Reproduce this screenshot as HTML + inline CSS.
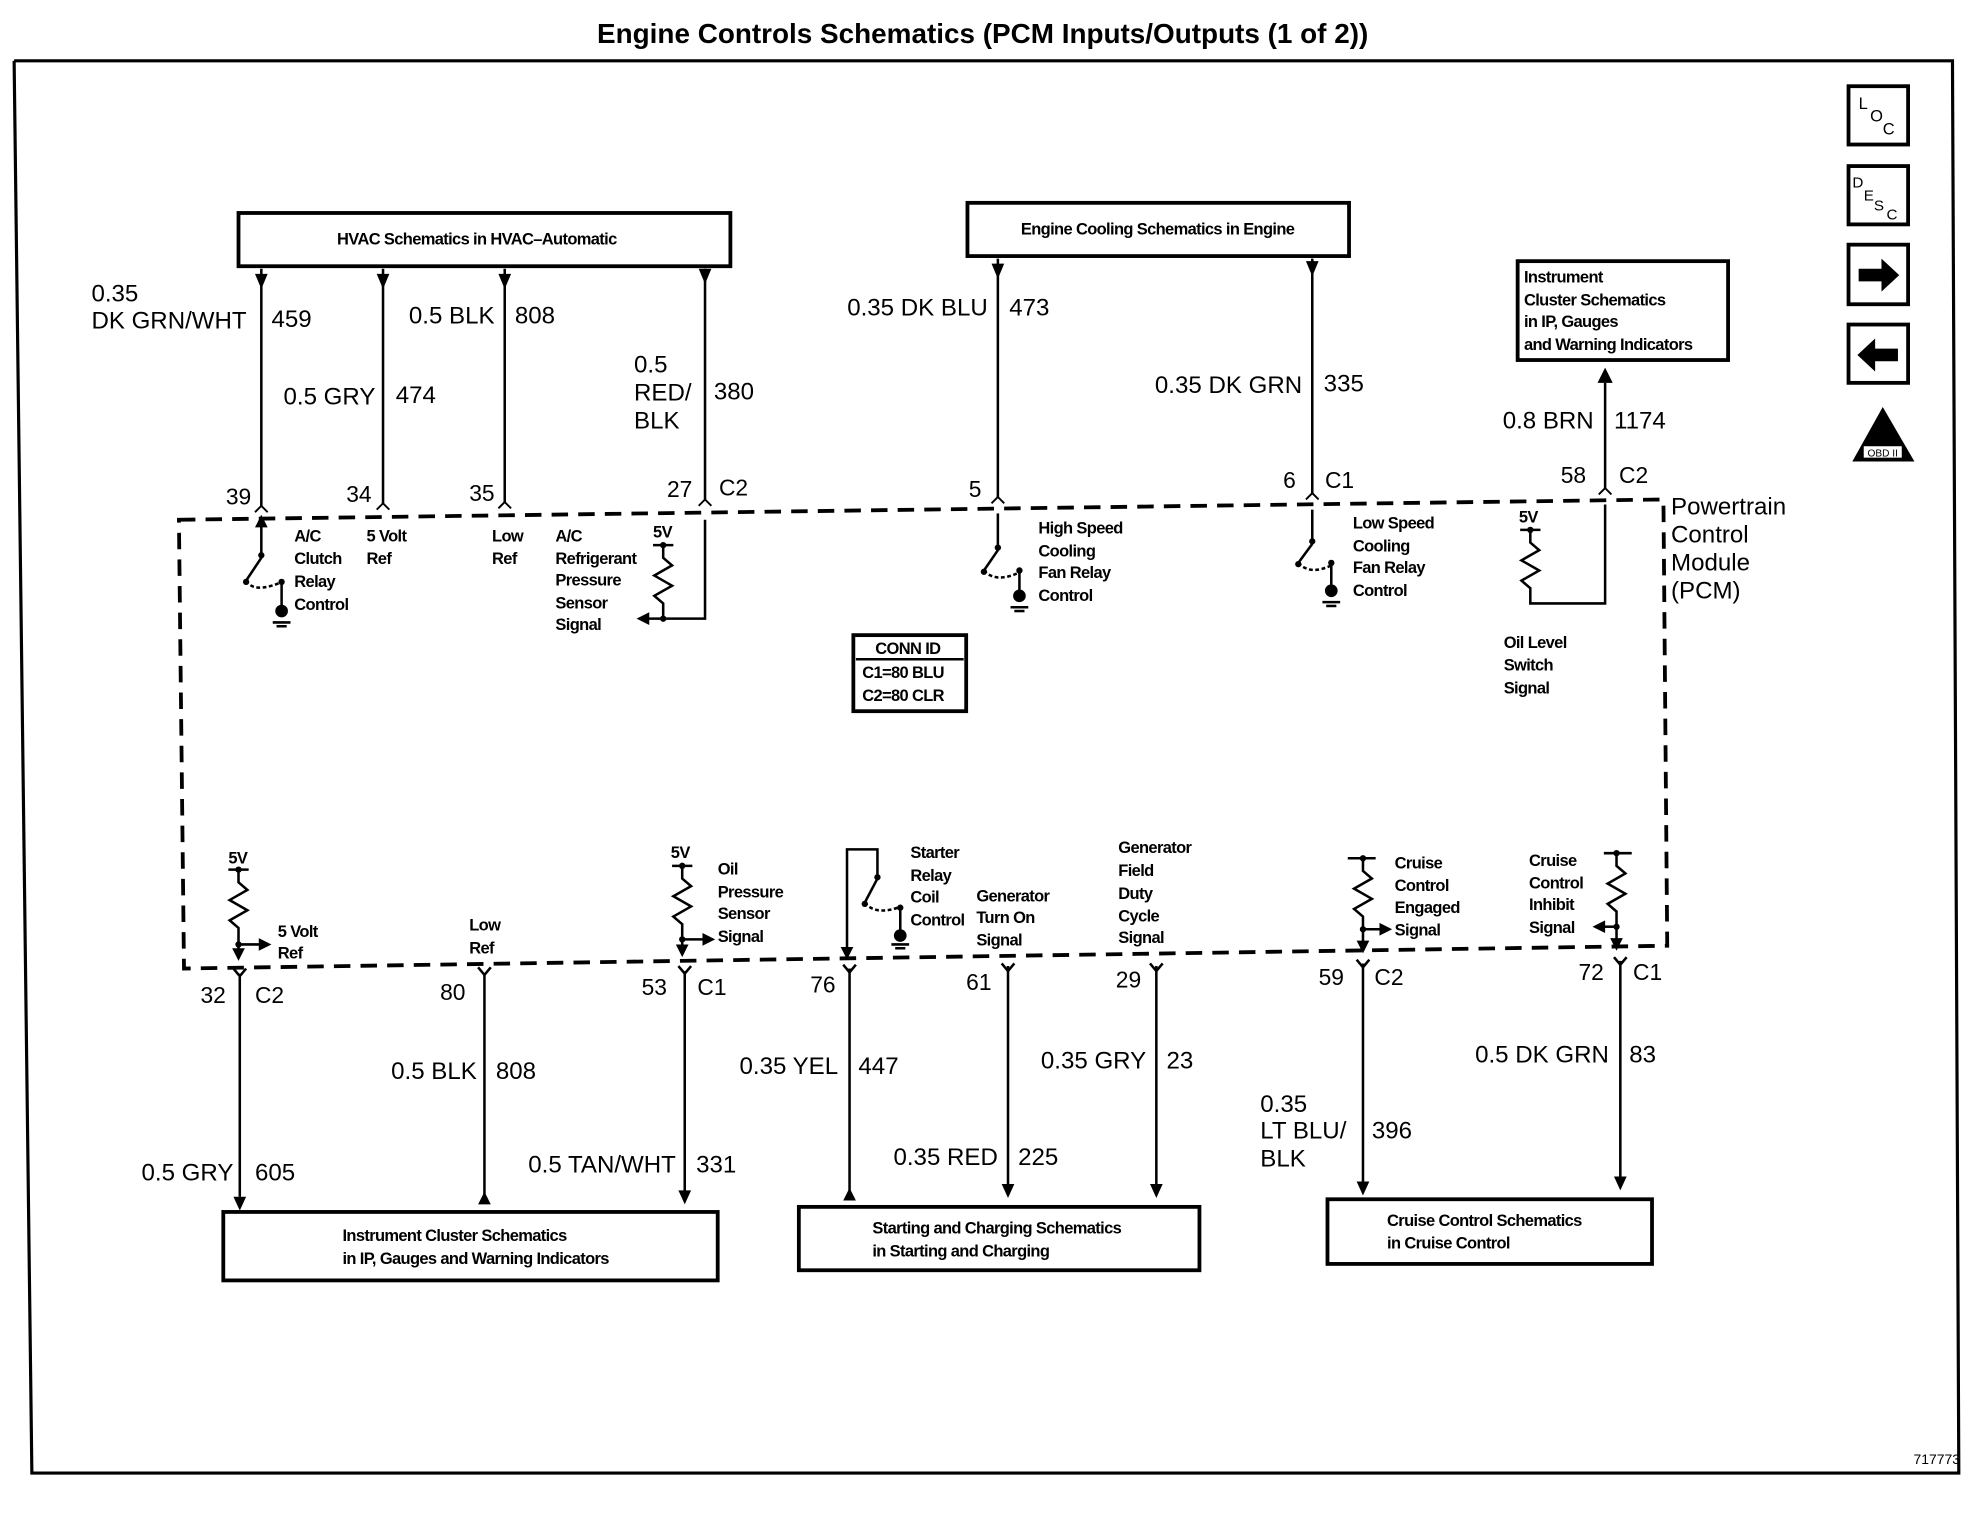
<!DOCTYPE html>
<html><head><meta charset="utf-8"><style>
html,body{margin:0;padding:0;background:#fff}
svg{display:block}
text{font-family:"Liberation Sans",sans-serif;fill:#000}
.s{font-size:13px;font-weight:bold;letter-spacing:-0.5px}
.m{font-size:19px}
.p{font-size:18px}
</style></head><body>
<svg width="1978" height="1520" viewBox="0 0 1560 1199" xmlns="http://www.w3.org/2000/svg">
<g fill="none" stroke="#000">
<polyline points="11,48 1540,48 1545,1162 25,1162 11,48" stroke-width="2.5"/>
</g>
<text x="775" y="34" text-anchor="middle" style="font-size:22px;font-weight:bold">Engine Controls Schematics (PCM Inputs/Outputs (1 of 2))</text>
<text x="1546" y="1155" text-anchor="end" style="font-size:11px">717773</text>

<!-- right icons -->
<g fill="none" stroke="#000" stroke-width="3">
<rect x="1458" y="68" width="47" height="46"/>
<rect x="1458" y="131" width="47" height="46"/>
<rect x="1458" y="193" width="47" height="47"/>
<rect x="1458" y="256" width="47" height="46"/>
</g>
<text x="1466" y="86" style="font-size:13px">L</text><text x="1475" y="96" style="font-size:13px">O</text><text x="1485" y="106" style="font-size:13px">C</text>
<text x="1461" y="148" style="font-size:12px">D</text><text x="1470" y="158" style="font-size:12px">E</text><text x="1478" y="166" style="font-size:12px">S</text><text x="1488" y="173" style="font-size:12px">C</text>
<path d="M1466,212 L1484,212 L1484,204 L1498,217 L1484,230 L1484,222 L1466,222z"/>
<path d="M1497,275 L1479,275 L1479,267 L1465,280 L1479,293 L1479,285 L1497,285z"/>
<path d="M1485,321 L1510,364 L1461,364z"/>
<rect x="1470" y="352" width="30" height="9" fill="#fff"/>
<text x="1485" y="360" text-anchor="middle" style="font-size:8px">OBD II</text>

<!-- boxes -->
<g fill="none" stroke="#000" stroke-width="3">
<rect x="188" y="168" width="388" height="42"/>
<rect x="763" y="160" width="301" height="42"/>
<rect x="1197" y="206" width="166" height="78"/>
<rect x="176" y="956" width="390" height="54"/>
<rect x="630" y="952" width="316" height="50"/>
<rect x="1047" y="946" width="256" height="51"/>
<rect x="673" y="501" width="89" height="60"/>
</g>
<line x1="675" y1="520" x2="760" y2="520" stroke="#000" stroke-width="2"/>
<text class="s" x="716" y="516" text-anchor="middle">CONN ID</text>
<text class="s" x="680" y="535">C1=80 BLU</text>
<text class="s" x="680" y="553">C2=80 CLR</text>

<text class="s" x="376" y="193" text-anchor="middle">HVAC Schematics in HVAC–Automatic</text>
<text class="s" x="913" y="185" text-anchor="middle">Engine Cooling Schematics in Engine</text>
<text class="s" x="1202" y="223">Instrument</text>
<text class="s" x="1202" y="241">Cluster Schematics</text>
<text class="s" x="1202" y="258">in IP, Gauges</text>
<text class="s" x="1202" y="276">and Warning Indicators</text>
<text class="s" x="270" y="979">Instrument Cluster Schematics</text>
<text class="s" x="270" y="997">in IP, Gauges and Warning Indicators</text>
<text class="s" x="688" y="973">Starting and Charging Schematics</text>
<text class="s" x="688" y="991">in Starting and Charging</text>
<text class="s" x="1094" y="967">Cruise Control Schematics</text>
<text class="s" x="1094" y="985">in Cruise Control</text>

<!-- PCM dashed -->
<polygon points="141,410 1312,394 1315,746 145,764" fill="none" stroke="#000" stroke-width="3" stroke-dasharray="13,8"/>
<text class="m" x="1318" y="406">Powertrain</text>
<text class="m" x="1318" y="428">Control</text>
<text class="m" x="1318" y="450">Module</text>
<text class="m" x="1318" y="472">(PCM)</text>

<!-- top wires -->
<g stroke="#000" stroke-width="2" fill="none">
<line x1="206" y1="212" x2="206" y2="400"/>
<line x1="302" y1="212" x2="302" y2="398"/>
<line x1="398" y1="212" x2="398" y2="397"/>
<line x1="556" y1="212" x2="556" y2="395"/>
<line x1="787" y1="204" x2="787" y2="393"/>
<line x1="1035" y1="204" x2="1035" y2="390"/>
<line x1="1266" y1="302" x2="1266" y2="386"/>
</g>
<path d="M201,216 L211,216 L206,228z"/><path d="M297,216 L307,216 L302,228z"/>
<path d="M393,216 L403,216 L398,228z"/><path d="M551,212 L561,212 L556,224z"/>
<path d="M782,208 L792,208 L787,220z"/><path d="M1030,206 L1040,206 L1035,218z"/>
<path d="M1260,302 L1272,302 L1266,290z"/>
<g stroke="#000" stroke-width="1.5" fill="none">
<polyline points="201,404 206,399 211,404"/><polyline points="297,402 302,397 307,402"/>
<polyline points="393,401 398,396 403,401"/><polyline points="551,399 556,394 561,399"/>
<polyline points="782,397 787,392 792,397"/><polyline points="1030,394 1035,389 1040,394"/>
<polyline points="1261,390 1266,385 1271,390"/>
</g>
<g class="m">
<text x="72" y="238">0.35</text>
<text x="72" y="259">DK GRN/WHT</text><text x="214" y="258">459</text>
<text x="296" y="319" text-anchor="end">0.5 GRY</text><text x="312" y="318">474</text>
<text x="390" y="255" text-anchor="end">0.5 BLK</text><text x="406" y="255">808</text>
<text x="500" y="294">0.5</text><text x="500" y="316">RED/</text><text x="500" y="338">BLK</text><text x="563" y="315">380</text>
<text x="779" y="249" text-anchor="end">0.35 DK BLU</text><text x="796" y="249">473</text>
<text x="1027" y="310" text-anchor="end">0.35 DK GRN</text><text x="1044" y="309">335</text>
<text x="1257" y="338" text-anchor="end">0.8 BRN</text><text x="1273" y="338">1174</text>
</g>
<g class="p">
<text x="178" y="398">39</text><text x="273" y="396">34</text><text x="370" y="395">35</text>
<text x="526" y="392">27</text><text x="567" y="391">C2</text>
<text x="764" y="392">5</text><text x="1012" y="385">6</text><text x="1045" y="385">C1</text>
<text x="1231" y="381">58</text><text x="1277" y="381">C2</text>
</g>

<!-- top inner components -->
<g stroke="#000" stroke-width="2" fill="none">
<line x1="206" y1="410" x2="206" y2="437"/><line x1="206" y1="440" x2="194" y2="458"/>
<path d="M194,458 Q200,468 220,460" stroke-dasharray="3,2"/>
<line x1="222" y1="458" x2="222" y2="478"/>
<line x1="215" y1="491" x2="229" y2="491"/><line x1="218" y1="494" x2="226" y2="494"/>
<polyline points="515,430 531,430"/><polyline points="523,430 523,440 530,446 516,454 530,462 516,470 523,476 523,488"/>
<polyline points="556,410 556,488 510,488"/>
<line x1="787" y1="405" x2="787" y2="430"/><line x1="787" y1="434" x2="776" y2="450"/>
<path d="M776,450 Q785,460 803,452" stroke-dasharray="3,2"/>
<line x1="804" y1="450" x2="804" y2="466"/><line x1="797" y1="479" x2="811" y2="479"/><line x1="800" y1="482" x2="808" y2="482"/>
<line x1="1035" y1="402" x2="1035" y2="425"/><line x1="1035" y1="429" x2="1024" y2="444"/>
<path d="M1024,444 Q1033,454 1050,446" stroke-dasharray="3,2"/>
<line x1="1050" y1="444" x2="1050" y2="462"/><line x1="1043" y1="475" x2="1057" y2="475"/><line x1="1046" y1="478" x2="1054" y2="478"/>
<polyline points="1199,418 1215,418"/><polyline points="1207,418 1207,428 1214,434 1200,442 1214,450 1200,458 1207,464 1207,476 1266,476 1266,398"/>
</g>
<path d="M206,406 L201,416 L211,416z"/><path d="M502,488 L512,483 L512,493z"/>
<circle cx="206" cy="438" r="2.5"/><circle cx="194" cy="459" r="2.5"/><circle cx="222" cy="459" r="2.5"/><circle cx="222" cy="482" r="5"/>
<circle cx="523" cy="430" r="2.5"/><circle cx="523" cy="488" r="2.5"/>
<circle cx="787" cy="432" r="2.5"/><circle cx="776" cy="451" r="2.5"/><circle cx="804" cy="450" r="2.5"/><circle cx="804" cy="470" r="5"/>
<circle cx="1035" cy="427" r="2.5"/><circle cx="1024" cy="445" r="2.5"/><circle cx="1050" cy="444" r="2.5"/><circle cx="1050" cy="466" r="5"/>
<circle cx="1207" cy="418" r="2.5"/>
<g class="s">
<text x="232" y="427">A/C</text><text x="232" y="445">Clutch</text><text x="232" y="463">Relay</text><text x="232" y="481">Control</text>
<text x="289" y="427">5 Volt</text><text x="289" y="445">Ref</text>
<text x="388" y="427">Low</text><text x="388" y="445">Ref</text>
<text x="438" y="427">A/C</text><text x="438" y="445">Refrigerant</text><text x="438" y="462">Pressure</text><text x="438" y="480">Sensor</text><text x="438" y="497">Signal</text>
<text x="515" y="424">5V</text>
<text x="819" y="421">High Speed</text><text x="819" y="439">Cooling</text><text x="819" y="456">Fan Relay</text><text x="819" y="474">Control</text>
<text x="1067" y="417">Low Speed</text><text x="1067" y="435">Cooling</text><text x="1067" y="452">Fan Relay</text><text x="1067" y="470">Control</text>
<text x="1198" y="412">5V</text>
<text x="1186" y="511">Oil Level</text><text x="1186" y="529">Switch</text><text x="1186" y="547">Signal</text>
</g>

<!-- bottom wires -->
<g stroke="#000" stroke-width="2" fill="none">
<line x1="189" y1="768" x2="189" y2="944"/>
<line x1="382" y1="768" x2="382" y2="946"/>
<line x1="540" y1="766" x2="540" y2="940"/>
<line x1="670" y1="764" x2="670" y2="943"/>
<line x1="795" y1="762" x2="795" y2="934"/>
<line x1="912" y1="762" x2="912" y2="934"/>
<line x1="1075" y1="760" x2="1075" y2="932"/>
<line x1="1278" y1="758" x2="1278" y2="928"/>
<polyline points="184,764 189,770 194,764"/><polyline points="377,763 382,769 387,763"/>
<polyline points="535,762 540,768 545,762"/><polyline points="665,761 670,767 675,761"/>
<polyline points="790,760 795,766 800,760"/><polyline points="907,760 912,766 917,760"/>
<polyline points="1070,757 1075,763 1080,757"/><polyline points="1273,755 1278,761 1283,755"/>
</g>
<path d="M184,944 L194,944 L189,955z"/><path d="M535,939 L545,939 L540,950z"/>
<path d="M790,934 L800,934 L795,945z"/><path d="M907,934 L917,934 L912,945z"/>
<path d="M1070,932 L1080,932 L1075,943z"/><path d="M1273,928 L1283,928 L1278,939z"/>
<path d="M382,940 L377,950 L387,950z"/><path d="M670,937 L665,947 L675,947z"/>
<g class="p">
<text x="158" y="791">32</text><text x="201" y="791">C2</text>
<text x="347" y="789">80</text>
<text x="506" y="785">53</text><text x="550" y="785">C1</text>
<text x="639" y="783">76</text><text x="762" y="781">61</text><text x="880" y="779">29</text>
<text x="1040" y="777">59</text><text x="1084" y="777">C2</text>
<text x="1245" y="773">72</text><text x="1288" y="773">C1</text>
</g>
<g class="m">
<text x="184" y="931" text-anchor="end">0.5 GRY</text><text x="201" y="931">605</text>
<text x="376" y="851" text-anchor="end">0.5 BLK</text><text x="391" y="851">808</text>
<text x="533" y="925" text-anchor="end">0.5  TAN/WHT</text><text x="549" y="925">331</text>
<text x="661" y="847" text-anchor="end">0.35 YEL</text><text x="677" y="847">447</text>
<text x="787" y="919" text-anchor="end">0.35 RED</text><text x="803" y="919">225</text>
<text x="904" y="843" text-anchor="end">0.35 GRY</text><text x="920" y="843">23</text>
<text x="994" y="877">0.35</text><text x="994" y="898">LT BLU/</text><text x="994" y="920">BLK</text><text x="1082" y="898">396</text>
<text x="1269" y="838" text-anchor="end">0.5  DK GRN</text><text x="1285" y="838">83</text>
</g>

<!-- bottom inner components -->
<g stroke="#000" stroke-width="2" fill="none">
<line x1="180" y1="686" x2="196" y2="686"/><polyline points="188,686 188,696 195,702 181,710 195,718 181,726 188,732 188,755"/>
<line x1="188" y1="745" x2="206" y2="745"/>
<line x1="530" y1="683" x2="546" y2="683"/><polyline points="538,683 538,693 545,699 531,707 545,715 531,723 538,729 538,752"/>
<line x1="538" y1="741" x2="556" y2="741"/>
<polyline points="668,752 668,670 692,670 692,690"/><line x1="692" y1="693" x2="682" y2="712"/>
<path d="M682,712 Q690,722 708,716" stroke-dasharray="3,2"/>
<line x1="710" y1="716" x2="710" y2="735"/><line x1="703" y1="745" x2="717" y2="745"/><line x1="706" y1="748" x2="714" y2="748"/>
<line x1="1063" y1="677" x2="1085" y2="677"/><polyline points="1075,677 1075,687 1082,693 1068,701 1082,709 1068,717 1075,723 1075,750"/>
<line x1="1075" y1="733" x2="1090" y2="733"/>
<line x1="1265" y1="673" x2="1287" y2="673"/><polyline points="1275,673 1275,683 1282,689 1268,697 1282,705 1268,713 1275,719 1275,748"/>
<line x1="1275" y1="731" x2="1264" y2="731"/>
</g>
<path d="M214,745 L204,740 L204,750z"/><path d="M564,741 L554,736 L554,746z"/>
<path d="M1098,733 L1088,728 L1088,738z"/><path d="M1256,731 L1266,726 L1266,736z"/>
<path d="M668,757 L663,747 L673,747z"/><path d="M188,758 L183,748 L193,748z"/><path d="M538,755 L533,745 L543,745z"/>
<path d="M1075,752 L1070,742 L1080,742z"/><path d="M1275,750 L1270,740 L1280,740z"/>
<circle cx="188" cy="686" r="2.5"/><circle cx="188" cy="745" r="2.5"/><circle cx="538" cy="683" r="2.5"/><circle cx="538" cy="741" r="2.5"/>
<circle cx="692" cy="692" r="2.5"/><circle cx="682" cy="713" r="2.5"/><circle cx="710" cy="716" r="2.5"/><circle cx="710" cy="738" r="5"/>
<circle cx="1075" cy="677" r="2.5"/><circle cx="1075" cy="733" r="2.5"/><circle cx="1275" cy="673" r="2.5"/><circle cx="1275" cy="731" r="2.5"/>
<g class="s">
<text x="180" y="681">5V</text>
<text x="219" y="739">5 Volt</text><text x="219" y="756">Ref</text>
<text x="370" y="734">Low</text><text x="370" y="752">Ref</text>
<text x="529" y="677">5V</text>
<text x="566" y="690">Oil</text><text x="566" y="708">Pressure</text><text x="566" y="725">Sensor</text><text x="566" y="743">Signal</text>
<text x="718" y="677">Starter</text><text x="718" y="695">Relay</text><text x="718" y="712">Coil</text><text x="718" y="730">Control</text>
<text x="770" y="711">Generator</text><text x="770" y="728">Turn On</text><text x="770" y="746">Signal</text>
<text x="882" y="673">Generator</text><text x="882" y="691">Field</text><text x="882" y="709">Duty</text><text x="882" y="727">Cycle</text><text x="882" y="744">Signal</text>
<text x="1100" y="685">Cruise</text><text x="1100" y="703">Control</text><text x="1100" y="720">Engaged</text><text x="1100" y="738">Signal</text>
<text x="1206" y="683">Cruise</text><text x="1206" y="701">Control</text><text x="1206" y="718">Inhibit</text><text x="1206" y="736">Signal</text>
</g>
</svg>
</body></html>
